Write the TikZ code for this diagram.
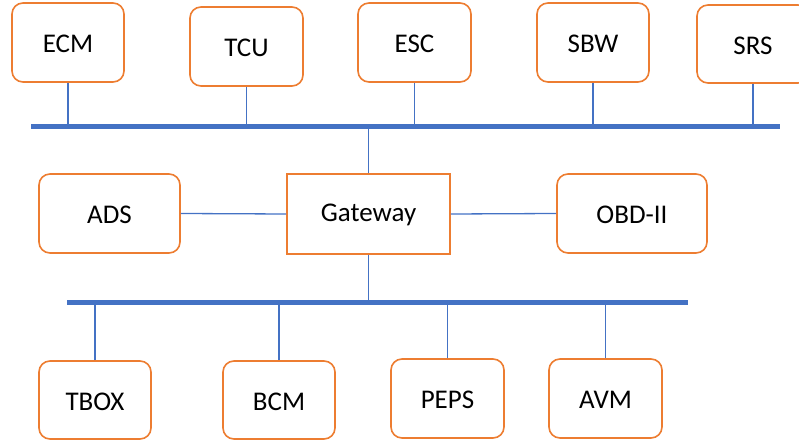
\documentclass[tikz,border=0pt]{standalone}
\usepackage{fontspec}
\setmainfont{Carlito}
\begin{document}
\begin{tikzpicture}[x=1pt,y=-1pt,
  ecu/.style={draw=ecuorange, line width=1.6pt, rounded corners=11pt, fill=white, font=\fontsize{27}{30}\selectfont, inner sep=0pt, text height=20.5pt, text depth=0pt},
  gw/.style={draw=ecuorange, line width=1.6pt, fill=white, font=\fontsize{27}{30}\selectfont, inner sep=0pt, text height=22pt, text depth=6pt},
  bus/.style={draw=busblue, line width=5pt},
  link/.style={draw=busblue, line width=1.3pt}]
\definecolor{ecuorange}{HTML}{ED7D31}
\definecolor{busblue}{HTML}{4472C4}
\useasboundingbox (0,0) rectangle (799,443);
% buses
\coordinate (b1L) at (31,126.5);
\coordinate (b1R) at (780,126.5);
\coordinate (b2L) at (67,302);
\coordinate (b2R) at (688,302);
% top row
\node[ecu, minimum width=112pt, minimum height=79pt] (ECM) at (68,42.5) {ECM};
\node[ecu, minimum width=113pt, minimum height=79pt] (TCU) at (246.5,46.5) {TCU};
\node[ecu, minimum width=113pt, minimum height=79pt] (ESC) at (414.5,42.5) {ESC};
\node[ecu, minimum width=112pt, minimum height=79pt] (SBW) at (593,42.5) {SBW};
\node[ecu, minimum width=112pt, minimum height=78pt] (SRS) at (753,44) {SRS};
% middle
\node[ecu, minimum width=141pt, minimum height=79pt] (ADS) at (109.5,213.5) {ADS};
\node[gw, minimum width=163pt, minimum height=80pt] (GW) at (368.5,214) {Gateway};
\node[ecu, minimum width=150pt, minimum height=79pt] (OBD) at (632,213.5) {OBD-II};
% bottom row
\node[ecu, minimum width=112pt, minimum height=78pt] (TBOX) at (95,400) {TBOX};
\node[ecu, minimum width=112pt, minimum height=78pt] (BCM) at (279,400) {BCM};
\node[ecu, minimum width=113pt, minimum height=79pt] (PEPS) at (447.5,398.5) {PEPS};
\node[ecu, minimum width=113pt, minimum height=79pt] (AVM) at (605.5,398.5) {AVM};
% stubs
\foreach \n in {ECM,TCU,ESC,SBW,SRS}
  \draw[link] (\n.south) -- (\n.south |- b1L);
\foreach \n in {TBOX,BCM,PEPS,AVM}
  \draw[link] (\n.north) -- (\n.north |- b2L);
\draw[link] (GW.north) -- (GW.north |- b1L);
\draw[link] (GW.south) -- (GW.south |- b2L);
\draw[link] (ADS.east) -- (GW.west);
\draw[link] (GW.east) -- (OBD.west);
\draw[bus] (b1L) -- (b1R);
\draw[bus] (b2L) -- (b2R);
\end{tikzpicture}
\end{document}
